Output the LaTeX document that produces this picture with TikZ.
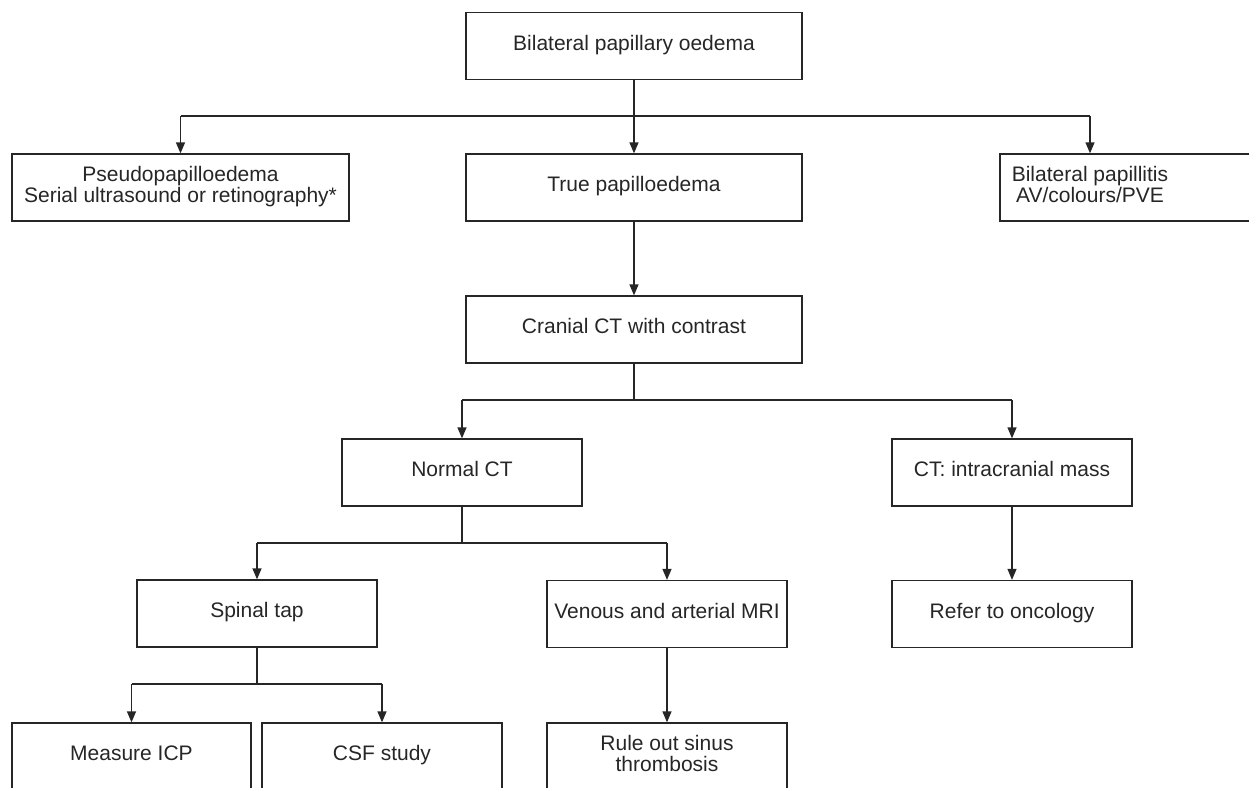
\documentclass[tikz,border=0pt]{standalone}
\usepackage{fontspec}
\setmainfont{Liberation Sans}
\usetikzlibrary{arrows.meta}
\begin{document}
\begin{tikzpicture}[x=1pt,y=-1pt,
    txt/.style={inner sep=0pt,align=center,text=black!85,font=\fontsize{21}{21.5}\selectfont,execute at begin node=\strut},
    box/.style={txt,draw=black!85,line width=1.3pt,minimum height=67pt,minimum width=240pt},
    wide/.style={box,minimum width=336pt},
    link/.style={draw=black!85,line width=1.3pt},
    arr/.style={link,-{Triangle[length=11pt,width=9pt]}}]
  \useasboundingbox (0,0) rectangle (1249,787);
  \clip (0,0) rectangle (1249,787);
  % boxes
  \node[wide] (top) at (634,46) {Bilateral papillary oedema};
  \node[wide,minimum width=337pt] (pseudo) at (180.5,187.5) {Pseudopapilloedema\\Serial ultrasound or retinography*};
  \node[wide] (true) at (634,187.5) {True papilloedema};
  \node[box,minimum width=262pt] (papillitis) at (1131,187.5) {};
  \node[txt] (papillitistext) at (1090,187.5) {Bilateral papillitis\\AV/colours/PVE};
  \node[wide] (cranial) at (634,329.5) {Cranial CT with contrast};
  \node[box] (normal) at (462,472.5) {Normal CT};
  \node[box] (mass) at (1012,472.5) {CT: intracranial mass};
  \node[box] (spinal) at (257,613.5) {Spinal tap};
  \node[box] (mri) at (667,614) {Venous and arterial MRI};
  \node[box] (oncology) at (1012,614) {Refer to oncology};
  \node[box,minimum width=239pt] (icp) at (131.5,756.5) {Measure ICP};
  \node[box] (csf) at (382,756.5) {CSF study};
  \node[box] (sinus) at (667,756.5) {Rule out sinus\\thrombosis};
  % forks
  \coordinate (fork1) at (634,116);
  \coordinate (fork2) at (634,400);
  \coordinate (fork3) at (462,543);
  \coordinate (fork4) at (257,684);
  % connectors
  \draw[link] (fork1 -| pseudo.north) -- (fork1 -| papillitistext);
  \draw[arr] (top.south) -- (true.north);
  \draw[arr] (fork1 -| pseudo.north) -- (pseudo.north);
  \draw[arr] (fork1 -| papillitistext) -- (papillitistext |- papillitis.north);
  \draw[arr] (true.south) -- (cranial.north);
  \draw[link] (cranial.south) -- (fork2);
  \draw[link] (fork2 -| normal.north) -- (fork2 -| mass.north);
  \draw[arr] (fork2 -| normal.north) -- (normal.north);
  \draw[arr] (fork2 -| mass.north) -- (mass.north);
  \draw[arr] (mass.south) -- (oncology.north);
  \draw[link] (normal.south) -- (fork3);
  \draw[link] (fork3 -| spinal.north) -- (fork3 -| mri.north);
  \draw[arr] (fork3 -| spinal.north) -- (spinal.north);
  \draw[arr] (fork3 -| mri.north) -- (mri.north);
  \draw[arr] (mri.south) -- (sinus.north);
  \draw[link] (spinal.south) -- (fork4);
  \draw[link] (fork4 -| icp.north) -- (fork4 -| csf.north);
  \draw[arr] (fork4 -| icp.north) -- (icp.north);
  \draw[arr] (fork4 -| csf.north) -- (csf.north);
\end{tikzpicture}
\end{document}
